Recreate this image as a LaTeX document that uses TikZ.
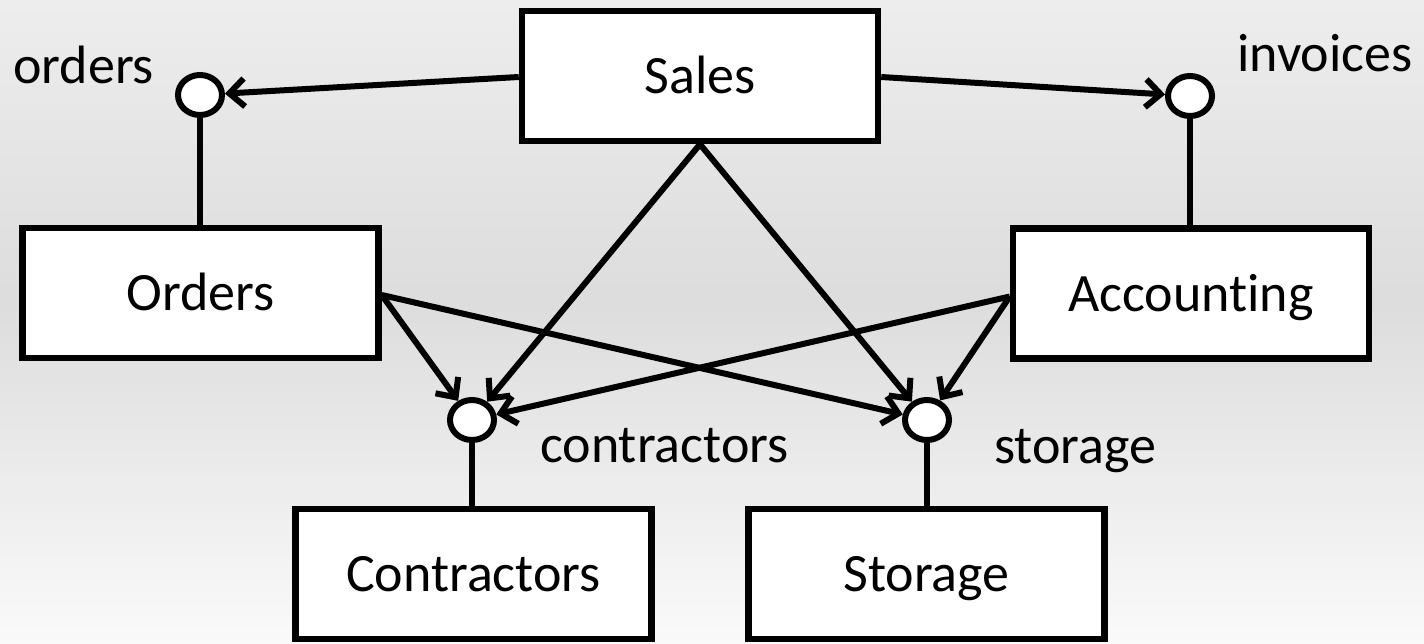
\documentclass[tikz,border=0pt]{standalone}
\usepackage{fontspec}
\setmainfont{Carlito}[Ligatures={NoCommon,NoContextual}]
\usetikzlibrary{arrows.meta,shapes.geometric}
\begin{document}
\begin{tikzpicture}[x=1pt,y=-1pt,
  box/.style={draw=black,fill=white,line width=6.5pt,minimum width=356pt,minimum height=130pt,
    inner sep=0pt,font=\fontsize{54}{60}\selectfont,text height=35pt,text depth=0pt},
  port/.style={draw=black,fill=white,ellipse,line width=6pt,minimum width=44pt,minimum height=40pt,inner sep=0pt},
  lbl/.style={font=\fontsize{54}{60}\selectfont,anchor=base west,inner sep=0pt},
  arr/.style={line width=6pt,-{Straight Barb[length=15pt,width=28pt]}},
  conn/.style={line width=6pt}]
\useasboundingbox (0,0) rectangle (1424,643);
\shade[top color=gray!14, bottom color=gray!27] (0,0) rectangle (1424,300);
\shade[top color=gray!27, bottom color=gray!4] (0,300) rectangle (1424,643);
% boxes
\node[box] (sales) at (700,76) {Sales};
\node[box] (orders) at (200.5,293) {Orders};
\node[box] (acc) at (1191,293.5) {Accounting};
\node[box] (contr) at (473.5,574) {Contractors};
\node[box] (stor) at (926.5,574) {Storage};
% ports
\node[port] (po) at (200,95) {};
\node[port] (pi) at (1190,96) {};
\node[port] (pc) at (472,420) {};
\node[port] (ps) at (927,420) {};
% labels
\node[lbl] (lo) at (13,83) {orders};
\node[lbl] (li) at (1237,71) {invoices};
\node[lbl] (lc) at (540,462) {contractors};
\node[lbl] (ls) at (994,463) {storage};
% vertical connectors
\draw[conn] (po.south) -- (orders.north -| po.south);
\draw[conn] (pi.south) -- (acc.north -| pi.south);
\draw[conn] (pc.south) -- (contr.north -| pc.south);
\draw[conn] (ps.south) -- (stor.north -| ps.south);
% arrows
\draw[arr] ([yshift=-1pt]sales.west) -- (po);
\draw[arr] ([yshift=-1pt]sales.east) -- (pi);
\draw[arr] (sales.south) -- (pc);
\draw[arr] (sales.south) -- (ps);
\draw[arr] ([yshift=-2pt]orders.east) -- (pc);
\draw[arr] ([yshift=-2pt]orders.east) -- (ps);
\draw[arr] ([yshift=-3pt]acc.west) -- (pc);
\draw[arr] ([yshift=-3pt]acc.west) -- (ps);
\end{tikzpicture}
\end{document}
